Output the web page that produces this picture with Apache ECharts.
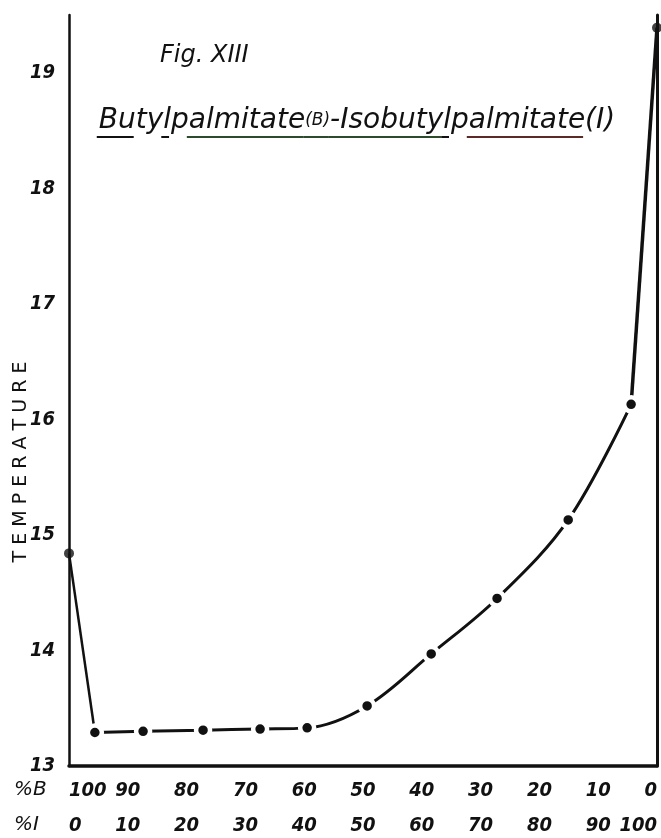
<!DOCTYPE html>
<html>
<head>
<meta charset="utf-8">
<title>Fig. XIII – Butylpalmitate / Isobutylpalmitate</title>
<script src="https://cdn.jsdelivr.net/npm/echarts@6/dist/echarts.min.js"></script>
<style>
  html, body { margin: 0; padding: 0; background: #fff; }
  #chart { width: 661px; height: 838px; }
</style>
</head>
<body>
<div id="chart"></div>
<script>
// Composition in % Isobutylpalmitate (I) and measured temperature
const percentI = [0, 4.4, 12.6, 22.8, 32.5, 40.5, 50.7, 61.6, 72.8, 84.9, 95.6, 100];
const temperature = [14.84, 13.29, 13.30, 13.31, 13.32, 13.33, 13.52, 13.97, 14.45, 15.13, 16.13, 19.39];

// Tick label rows under the x axis
const labelsB = ['100', '90', '80', '70', '60', '50', '40', '30', '20', '10', '0'];
const labelsI = ['0', '10', '20', '30', '40', '50', '60', '70', '80', '90', '100'];
const yTicks = [13, 14, 15, 16, 17, 18, 19];

const INK = '#111';
const HAND = '"DejaVu Sans", sans-serif';
const NUM = '"DejaVu Sans Condensed", "DejaVu Sans", sans-serif';

const pts = percentI.map((x, i) => [x, temperature[i]]);
const last = pts.length - 1;

// ---- title pieces, measured so the hand-drawn underlines sit under the right letters
const BIG = 'italic 28px ' + HAND;
const SMALL = 'italic 17px ' + HAND;
const titlePieces = [
  { text: 'Butylpalmitate', font: BIG, style: 't' },
  { text: '(B)', font: SMALL, style: 's' },
  { text: '-Isobutylpalmitate(I)', font: BIG, style: 't' }
];
// [piece, first char, end char (exclusive), colour]
const underlines = [
  [0, 0, 2, INK],
  [0, 4, 5, INK],
  [0, 6, 14, '#2e4a2c'],
  [1, 0, 3, '#2e4a2c'],
  [2, 0, 8, '#2e4a2c'],
  [2, 8, 9, INK],
  [2, 10, 18, '#5c2a26']
];
const measureCtx = document.createElement('canvas').getContext('2d');
function textWidth(str, font) { measureCtx.font = font; return measureCtx.measureText(str).width; }
const titleCenterX = 357, titleY = 121, underlineY = 137;
const pieceWidths = titlePieces.map(p => textWidth(p.text, p.font));
const titleWidth = pieceWidths.reduce((a, b) => a + b, 0);
const titleLeft = titleCenterX - titleWidth / 2;
const pieceStart = [];
pieceWidths.reduce((acc, w, i) => { pieceStart[i] = acc; return acc + w; }, titleLeft);
const underlineGraphics = underlines.map(([p, a, b, col]) => {
  const piece = titlePieces[p];
  const x1 = pieceStart[p] + textWidth(piece.text.slice(0, a), piece.font);
  const x2 = pieceStart[p] + textWidth(piece.text.slice(0, b), piece.font);
  return {
    type: 'line', shape: { x1: x1 - 2, y1: underlineY, x2: x2 - 2, y2: underlineY },
    style: { stroke: col, lineWidth: 2 }
  };
});

const chart = echarts.init(document.getElementById('chart'), null, { renderer: 'canvas' });

const tickLabel = (list) => (v) => {
  const k = Math.round(v / 10);
  return Math.abs(v - k * 10) < 1e-6 ? list[k] : '';
};
const xLabelStyle = {
  color: INK, fontFamily: NUM, fontSize: 20, fontStyle: 'italic', fontWeight: 'bold',
  alignMinLabel: 'left', alignMaxLabel: 'right'
};

chart.setOption({
  backgroundColor: '#fff',
  animation: false,
  grid: { left: 69, right: 4, top: 15, bottom: 72, containLabel: false, outerBoundsMode: 'none' },
  xAxis: [
    {
      type: 'value', min: 0, max: 100, interval: 10, position: 'bottom',
      axisLine: { show: true, onZero: false, lineStyle: { color: INK, width: 3.5 } },
      axisTick: { show: false }, splitLine: { show: false },
      axisLabel: Object.assign({ formatter: tickLabel(labelsB), margin: 15 }, xLabelStyle)
    },
    {
      type: 'value', min: 0, max: 100, interval: 10, position: 'bottom', offset: 35,
      axisLine: { show: false, onZero: false }, axisTick: { show: false }, splitLine: { show: false },
      axisLabel: Object.assign({ formatter: tickLabel(labelsI), margin: 15 }, xLabelStyle)
    }
  ],
  yAxis: [
    {
      type: 'value', min: 13, max: 19.5, interval: 1, position: 'left',
      axisLine: { show: true, onZero: false, lineStyle: { color: INK, width: 2.5 } },
      axisTick: { show: false }, splitLine: { show: false },
      axisLabel: {
        margin: 14, color: INK, fontFamily: NUM, fontSize: 20,
        fontStyle: 'italic', fontWeight: 'bold',
        formatter: (v) => (yTicks.indexOf(v) >= 0 ? String(v) : '')
      }
    },
    {
      type: 'value', min: 13, max: 19.5, interval: 1, position: 'right',
      axisLine: { show: true, onZero: false, lineStyle: { color: INK, width: 3 } },
      axisTick: { show: false }, splitLine: { show: false },
      axisLabel: { show: false }
    }
  ],
  series: [
    {
      // steep drop from pure B to the first mixture
      type: 'line', data: [pts[0], pts[1]], symbol: 'none', z: 2,
      lineStyle: { color: INK, width: 2.5 }
    },
    {
      // steep rise to pure I
      type: 'line', data: [pts[last - 1], pts[last]], symbol: 'none', z: 2,
      lineStyle: { color: INK, width: 3.5 }
    },
    {
      // smooth curve through the mixtures; white rims leave the pen gaps at each dot
      type: 'line', data: pts.slice(1, last), smooth: 0.35, z: 3,
      symbol: 'circle', symbolSize: 14,
      itemStyle: { color: INK, borderColor: '#fff', borderWidth: 4.5 },
      lineStyle: { color: INK, width: 3 }
    },
    {
      // pure components
      type: 'scatter', data: [pts[0], pts[last]], z: 4,
      symbol: 'circle', symbolSize: 10, itemStyle: { color: INK }
    }
  ],
  graphic: [
    {
      type: 'text', left: 160, top: 44,
      style: { text: 'Fig. XIII', font: 'italic 24px ' + HAND, fill: INK }
    },
    {
      type: 'text', x: titleLeft, y: titleY,
      style: {
        text: titlePieces.map(p => '{' + p.style + '|' + p.text + '}').join(''),
        align: 'left', verticalAlign: 'middle',
        rich: {
          t: { font: BIG, fill: INK },
          s: { font: SMALL, fill: INK }
        }
      }
    },
    ...underlineGraphics,
    {
      type: 'text', x: 21, y: 462, rotation: Math.PI / 2,
      style: {
        text: 'T E M P E R A T U R E', align: 'center', verticalAlign: 'middle',
        font: '19px ' + HAND, fill: INK
      }
    },
    {
      type: 'text', left: 14, top: 780,
      style: { text: '%B', font: 'italic 20px ' + HAND, fill: INK }
    },
    {
      type: 'text', left: 14, top: 815,
      style: { text: '%I', font: 'italic 20px ' + HAND, fill: INK }
    }
  ]
});
</script>
</body>
</html>
